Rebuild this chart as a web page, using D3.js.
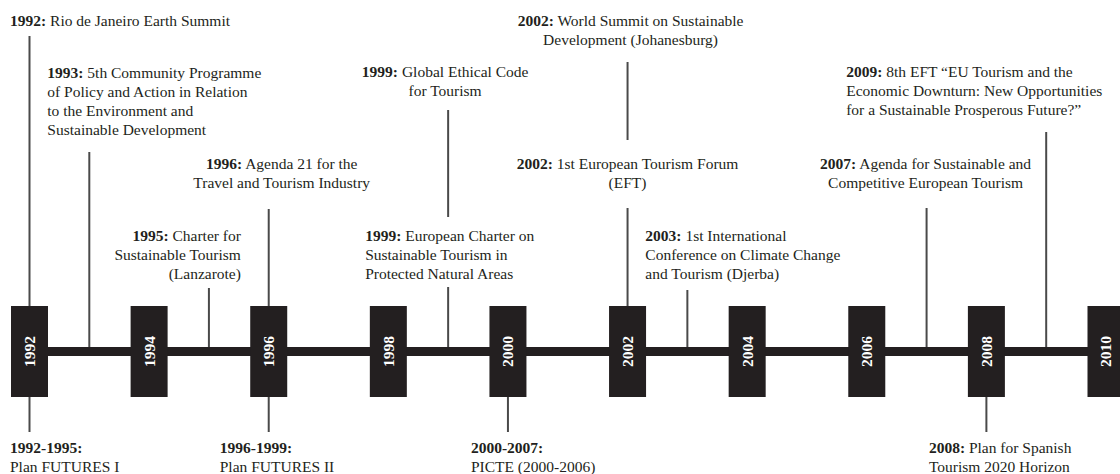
<!DOCTYPE html>
<html><head><meta charset="utf-8">
<script src="https://cdn.jsdelivr.net/npm/d3@7"></script>
<style>html,body{margin:0;padding:0;background:#fff;}svg{display:block;}</style>
</head><body>
<svg id="chart" width="1120" height="474"></svg>
<script>
// ---- data ----
const yearTicks = [1992, 1994, 1996, 1998, 2000, 2002, 2004, 2006, 2008, 2010];
const eventYears = [1992, 1993, 1995, 1996, 1999, 1999, 2002, 2002, 2003, 2007, 2009];
const eventBold = ["1992:", "1993:", "1995:", "1996:", "1999:", "1999:", "2002:", "2002:", "2003:", "2007:", "2009:"];
const eventLines = [
  ["Rio de Janeiro Earth Summit"],
  ["5th Community Programme", "of Policy and Action in Relation", "to the Environment and", "Sustainable Development"],
  ["Charter for", "Sustainable Tourism", "(Lanzarote)"],
  ["Agenda 21 for the", "Travel and Tourism Industry"],
  ["Global Ethical Code", "for Tourism"],
  ["European Charter on", "Sustainable Tourism in", "Protected Natural Areas"],
  ["World Summit on Sustainable", "Development (Johanesburg)"],
  ["1st European Tourism Forum", "(EFT)"],
  ["1st International", "Conference on Climate Change", "and Tourism (Djerba)"],
  ["Agenda for Sustainable and", "Competitive European Tourism"],
  ["8th EFT \u201cEU Tourism and the", "Economic Downturn: New Opportunities", "for a Sustainable Prosperous Future?\u201d"]
];
const planYears = [1992, 1996, 2000, 2008];
const planBold = ["1992-1995:", "1996-1999:", "2000-2007:", "2008:"];
const planLines = [
  ["", "Plan FUTURES I"],
  ["", "Plan FUTURES II"],
  ["", "PICTE (2000-2006)"],
  [" Plan for Spanish", "Tourism 2020 Horizon"]
];

// ---- layout (not data) ----
// dx: text anchor offset from year position, y0: first baseline, anchor, leader line top/bottom
const eventLayout = [
  {dx: -19.5, y0: 26, anchor: "start", l1: 36, l2: 351},
  {dx: -42, y0: 77.5, anchor: "start", l1: 152, l2: 351},
  {dx: 32, y0: 241, anchor: "end", l1: 288, l2: 351},
  {dx: 13, y0: 169, anchor: "middle", l1: 209, l2: 351},
  {dx: -3, y0: 77, anchor: "middle", l1: 110, l2: 217},
  {dx: -83, y0: 241, anchor: "start", l1: 287, l2: 351},
  {dx: 3, y0: 26, anchor: "middle", l1: 62, l2: 140},
  {dx: 0, y0: 169, anchor: "middle", l1: 208, l2: 351},
  {dx: -42, y0: 241, anchor: "start", l1: 290, l2: 351},
  {dx: -1, y0: 169, anchor: "middle", l1: 208, l2: 351},
  {dx: -200, y0: 77, anchor: "start", l1: 132, l2: 351}
];
const planLayout = [
  {dx: -19.5}, {dx: -49}, {dx: -37}, {dx: -57.5}
];

const W = 1120, H = 474;
const FONT = "'Liberation Serif','Times New Roman',serif";
const FS = 15.5, LH = 19.2;
const INK = "#231f20", LEAD = "#4a4a4a";
const lineY = 351.5, boxTop = 306, boxBot = 397, boxW = 37;

const x = d3.scaleLinear().domain([1992, 2010]).range([29.5, 1106]);
const svg = d3.select("#chart");

// leader lines (top)
const events = eventYears.map((y, i) => ({year: y, bold: eventBold[i], lines: eventLines[i], ...eventLayout[i]}));
svg.append("g").selectAll("line").data(events).join("line")
  .attr("x1", d => x(d.year)).attr("x2", d => x(d.year))
  .attr("y1", d => d.l1).attr("y2", d => d.l2)
  .attr("stroke", LEAD).attr("stroke-width", 2);

// plan leader lines (bottom)
const plans = planYears.map((y, i) => ({year: y, bold: planBold[i], lines: planLines[i], ...planLayout[i]}));
svg.append("g").selectAll("line").data(plans).join("line")
  .attr("x1", d => x(d.year)).attr("x2", d => x(d.year))
  .attr("y1", boxBot).attr("y2", 432)
  .attr("stroke", LEAD).attr("stroke-width", 2);

// timeline bar
svg.append("rect").attr("x", x(1992)).attr("y", lineY - 4.5)
  .attr("width", W - x(1992)).attr("height", 9).attr("fill", INK);

// year boxes
const boxes = svg.append("g").selectAll("g").data(yearTicks).join("g")
  .attr("transform", d => `translate(${x(d)},0)`);
boxes.append("rect").attr("x", -boxW / 2).attr("y", boxTop)
  .attr("width", boxW).attr("height", boxBot - boxTop).attr("fill", INK);
boxes.append("text")
  .attr("transform", `translate(0,${(boxTop + boxBot) / 2}) rotate(-90)`)
  .attr("text-anchor", "middle").attr("dy", "0.35em")
  .attr("fill", "#fff").attr("font-family", FONT).attr("font-weight", "bold")
  .attr("font-size", FS).text(d => d);

// event texts
function drawLabel(g, d, y0) {
  const t = g.append("text").attr("font-family", FONT).attr("font-size", FS)
    .attr("fill", INK).attr("text-anchor", d.anchor || "start");
  const tx = x(d.year) + d.dx;
  d.lines.forEach((ln, k) => {
    const ts = t.append("tspan").attr("x", tx).attr("y", y0 + k * LH);
    if (k === 0) {
      ts.append("tspan").attr("font-weight", "bold").text(d.bold);
      if (ln) ts.append("tspan").text((ln.startsWith(" ") ? "" : " ") + ln);
    } else {
      ts.text(ln);
    }
  });
}
const tg = svg.append("g");
events.forEach(d => drawLabel(tg, d, d.y0));
plans.forEach(d => drawLabel(tg, d, 453));
</script>
</body></html>
